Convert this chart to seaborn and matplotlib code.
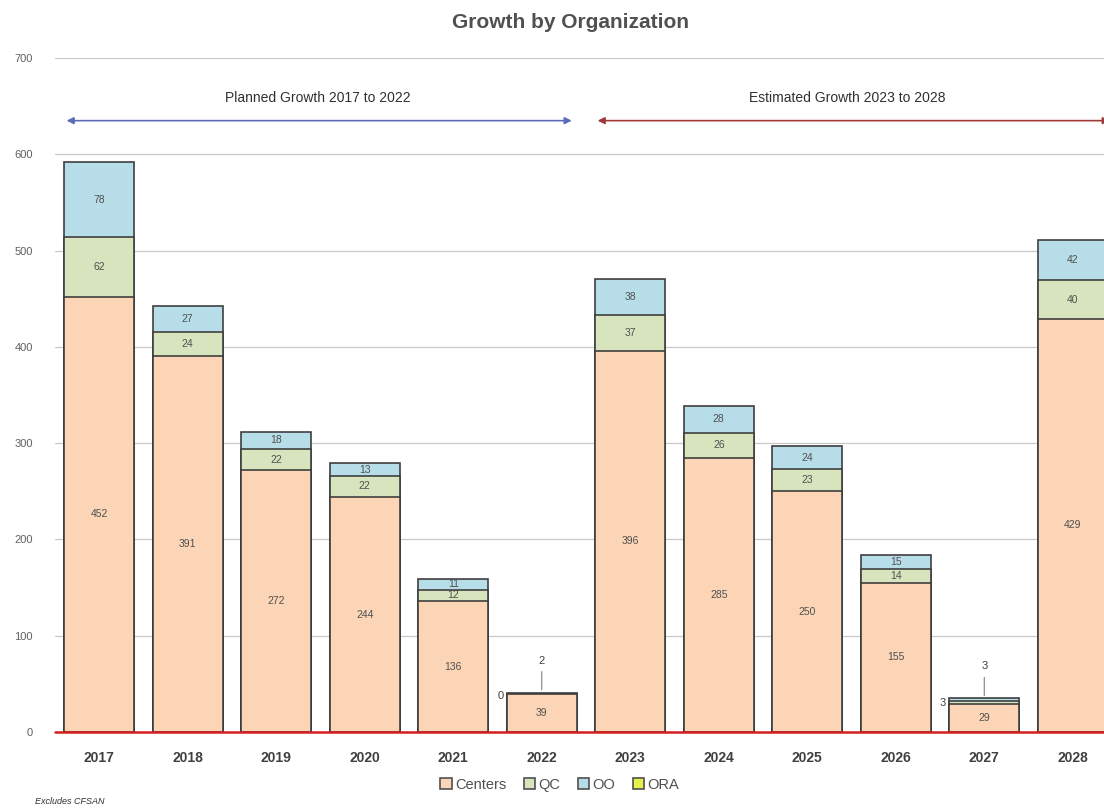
import seaborn as sns
import matplotlib.pyplot as plt
from matplotlib.patches import Patch

# data
years = ['2017', '2018', '2019', '2020', '2021', '2022',
         '2023', '2024', '2025', '2026', '2027', '2028']
centers = [452, 391, 272, 244, 136, 39, 396, 285, 250, 155, 29, 429]
qc = [62, 24, 22, 22, 12, 0, 37, 26, 23, 14, 3, 40]
oo = [78, 27, 18, 13, 11, 2, 38, 28, 24, 15, 3, 42]
ora = [0] * 12
series_names = ['Centers', 'QC', 'OO', 'ORA']

c_centers = '#FBD5B5'
c_qc = '#D7E4BD'
c_oo = '#B7DDE8'
c_ora = '#E6F04A'
edge = '#3F3F3F'
txt = '#404040'

sns.set_style('white')
plt.rcParams['font.family'] = ['Liberation Sans', 'DejaVu Sans']

fig = plt.figure(figsize=(11.04, 8.10), dpi=100)
ax = fig.add_axes([0.0498, 0.0963, 0.962, 0.832])

# stacked bars drawn as overlapping cumulative totals
lvl1 = centers
lvl2 = [a + b for a, b in zip(centers, qc)]
lvl3 = [a + b for a, b in zip(lvl2, oo)]
w = 0.79
sns.barplot(x=years, y=lvl3, color=c_oo, edgecolor=edge, linewidth=1.2,
            width=w, saturation=1, ax=ax)
sns.barplot(x=years, y=lvl2, color=c_qc, edgecolor=edge, linewidth=1.2,
            width=w, saturation=1, ax=ax)
sns.barplot(x=years, y=lvl1, color=c_centers, edgecolor=edge, linewidth=1.2,
            width=w, saturation=1, ax=ax)

ax.set_ylim(0, 700)
ax.set_xlim(-0.5, 11.5)
ax.set_yticks(range(0, 701, 100))
ax.yaxis.grid(True, color='#C8C8C8', linewidth=0.9)
ax.set_axisbelow(True)
for s in ax.spines.values():
    s.set_visible(False)
ax.axhline(0, color='#D42020', linewidth=1.8, zorder=5, clip_on=False)
ax.tick_params(axis='y', labelsize=8, labelcolor='#606060', length=0, pad=16)
ax.tick_params(axis='x', labelsize=10, labelcolor=txt, length=0, pad=14)
for lab in ax.get_xticklabels():
    lab.set_fontweight('bold')
ax.set_xlabel('')
ax.set_ylabel('')

# segment labels
for i in range(len(years)):
    if lvl3[i] < 50:
        # tiny bars: centre label inside, the others outside
        ax.text(i, centers[i] / 2, str(centers[i]), ha='center', va='center',
                fontsize=7.5, color='#505050')
        ax.text(i - w / 2 - 0.04, lvl2[i] - 2, str(qc[i]), ha='right',
                va='center', fontsize=8, color=txt)
        ax.annotate(str(oo[i]), xy=(i, lvl3[i]), xytext=(i, lvl3[i] + 28),
                    ha='center', va='bottom', fontsize=8, color=txt,
                    arrowprops=dict(arrowstyle='-', color='#808080', lw=0.8))
        continue
    segs = [(0, centers[i]), (centers[i], qc[i]), (lvl2[i], oo[i])]
    for base, val in segs:
        ax.text(i, base + val / 2, str(val), ha='center', va='center',
                fontsize=7.5, color='#505050')

# period arrows
ax.annotate('', xy=(-0.4, 635), xytext=(5.37, 635),
            arrowprops=dict(arrowstyle='<|-|>', color='#5B6BB5', lw=1.2,
                            mutation_scale=10))
ax.annotate('', xy=(5.6, 635), xytext=(11.45, 635),
            arrowprops=dict(arrowstyle='<|-|>', color='#9E3A3A', lw=1.2,
                            mutation_scale=10))
ax.text(2.47, 659, 'Planned Growth 2017 to 2022', ha='center', va='center',
        fontsize=10, color='#303030')
ax.text(8.45, 659, 'Estimated Growth 2023 to 2028', ha='center', va='center',
        fontsize=10, color='#303030')

fig.text(0.517, 0.972, 'Growth by Organization', ha='center', va='center',
         fontsize=15, fontweight='bold', color='#505050')

handles = [Patch(facecolor=c, edgecolor='#505050', linewidth=1.2)
           for c in [c_centers, c_qc, c_oo, c_ora]]
fig.legend(handles, series_names, loc='center', bbox_to_anchor=(0.507, 0.031),
           ncol=4, frameon=False, fontsize=10.5, handlelength=0.8,
           handleheight=0.8, handletextpad=0.2, columnspacing=1.2,
           labelcolor='#505050')

fig.text(0.032, 0.011, 'Excludes CFSAN', ha='left', va='center',
         fontsize=6.5, style='italic', color='#303030')

fig.savefig('out.png', dpi=100)
